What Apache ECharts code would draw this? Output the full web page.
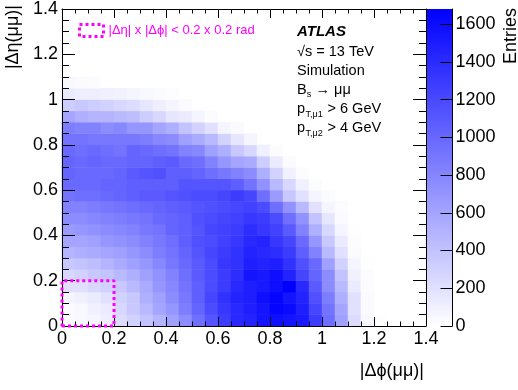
<!DOCTYPE html>
<html><head><meta charset="utf-8">
<script src="https://cdn.jsdelivr.net/npm/echarts@6/dist/echarts.min.js"></script>
<style>html,body{margin:0;padding:0;background:#fff}#c{width:518px;height:390px}</style>
</head><body><div id="c"></div>
<script>
// ---------------- data ----------------
// Bin edges: 28 x 28 bins of 0.05 on both axes (0 .. 1.4)
const nBinsPhi = 28;
const nBinsEta = 28;
const binWidth = 0.05;
const axisMin = 0;
const axisMax = 1.4;
const axisStep = 0.2;
const xTickLabels = ['0', '0.2', '0.4', '0.6', '0.8', '1', '1.2', '1.4'];
const yTickLabels = ['0', '0.2', '0.4', '0.6', '0.8', '1', '1.2', '1.4'];
const colorbarTicks = [0, 200, 400, 600, 800, 1000, 1200, 1400, 1600];
const colorbarMax = 1680;
// signal region box |Δη| x |Δφ| < 0.2 x 0.2
const cutBoxPhi = [0, 0.2, 0.2, 0, 0];
const cutBoxEta = [0, 0, 0.2, 0.2, 0];
const cutLabel = '|Δη| x |Δϕ| < 0.2 x 0.2 rad';

// Entries per bin, one row per |Δη| bin (row 0 = 0-0.05), columns = |Δφ| bins
const entries = [
  [20, 46, 66, 112, 231, 297, 396, 495, 627, 759, 957, 1122, 1287, 1419, 1452, 1551, 1584, 1551, 1518, 1287, 957, 627, 231, 46, 5, 0, 0, 0],
  [33, 46, 99, 132, 264, 363, 462, 594, 693, 858, 1023, 1188, 1320, 1419, 1485, 1551, 1650, 1617, 1485, 1221, 924, 594, 198, 33, 0, 0, 0, 0],
  [66, 99, 132, 198, 297, 363, 528, 627, 759, 891, 1056, 1221, 1353, 1452, 1485, 1584, 1650, 1551, 1452, 1155, 858, 528, 198, 33, 0, 0, 0, 0],
  [198, 198, 264, 297, 363, 462, 561, 693, 792, 924, 1056, 1188, 1287, 1419, 1485, 1518, 1584, 1683, 1419, 1089, 759, 462, 132, 20, 0, 0, 0, 0],
  [264, 297, 363, 396, 462, 528, 627, 726, 825, 957, 1089, 1188, 1287, 1386, 1551, 1518, 1584, 1452, 1221, 1023, 759, 396, 99, 20, 0, 0, 0, 0],
  [363, 396, 429, 495, 561, 627, 693, 792, 891, 990, 1089, 1188, 1320, 1353, 1485, 1452, 1485, 1353, 1155, 990, 627, 297, 66, 5, 0, 0, 0, 0],
  [495, 528, 561, 594, 627, 693, 759, 858, 924, 1023, 1122, 1221, 1287, 1353, 1452, 1419, 1386, 1287, 1056, 825, 462, 198, 33, 0, 0, 0, 0, 0],
  [594, 594, 627, 693, 726, 759, 825, 891, 957, 1056, 1155, 1188, 1254, 1320, 1419, 1452, 1320, 1221, 990, 693, 363, 132, 20, 0, 0, 0, 0, 0],
  [660, 693, 726, 759, 792, 825, 891, 924, 1023, 1056, 1122, 1221, 1254, 1287, 1386, 1320, 1254, 1089, 825, 528, 264, 66, 5, 0, 0, 0, 0, 0],
  [759, 759, 792, 825, 858, 891, 924, 990, 1023, 1056, 1155, 1188, 1221, 1254, 1320, 1287, 1188, 957, 726, 396, 165, 33, 0, 0, 0, 0, 0, 0],
  [825, 825, 858, 891, 924, 957, 990, 1023, 1056, 1089, 1122, 1155, 1188, 1221, 1254, 1188, 957, 726, 462, 198, 66, 20, 0, 0, 0, 0, 0, 0],
  [924, 957, 957, 990, 1023, 1056, 1089, 1089, 1122, 1155, 1188, 1188, 1221, 1287, 1221, 957, 660, 363, 198, 66, 20, 0, 0, 0, 0, 0, 0, 0],
  [990, 990, 990, 1023, 1023, 1056, 1056, 1056, 1056, 1122, 1122, 1122, 1122, 1056, 924, 726, 462, 264, 99, 20, 0, 0, 0, 0, 0, 0, 0, 0],
  [1023, 990, 990, 990, 1023, 1089, 1122, 1155, 1056, 1056, 1023, 957, 891, 825, 759, 528, 297, 99, 20, 0, 0, 0, 0, 0, 0, 0, 0, 0],
  [1023, 990, 1023, 990, 990, 1023, 1023, 1056, 1089, 990, 957, 825, 693, 594, 561, 330, 132, 33, 0, 0, 0, 0, 0, 0, 0, 0, 0, 0],
  [990, 957, 990, 957, 924, 1023, 990, 957, 924, 825, 792, 627, 528, 363, 264, 99, 20, 0, 0, 0, 0, 0, 0, 0, 0, 0, 0, 0],
  [924, 924, 891, 891, 891, 891, 858, 792, 759, 627, 561, 462, 297, 165, 66, 0, 0, 0, 0, 0, 0, 0, 0, 0, 0, 0, 0, 0],
  [858, 825, 825, 759, 792, 693, 693, 594, 528, 396, 297, 198, 66, 33, 0, 0, 0, 0, 0, 0, 0, 0, 0, 0, 0, 0, 0, 0],
  [594, 528, 495, 495, 462, 429, 330, 264, 165, 132, 66, 20, 0, 0, 0, 0, 0, 0, 0, 0, 0, 0, 0, 0, 0, 0, 0, 0],
  [330, 363, 330, 297, 264, 231, 165, 112, 66, 33, 0, 0, 0, 0, 0, 0, 0, 0, 0, 0, 0, 0, 0, 0, 0, 0, 0, 0],
  [132, 112, 112, 99, 86, 66, 46, 33, 13, 0, 0, 0, 0, 0, 0, 0, 0, 0, 0, 0, 0, 0, 0, 0, 0, 0, 0, 0],
  [46, 33, 20, 0, 0, 0, 0, 0, 0, 0, 0, 0, 0, 0, 0, 0, 0, 0, 0, 0, 0, 0, 0, 0, 0, 0, 0, 0],
  [0, 0, 0, 0, 0, 0, 0, 0, 0, 0, 0, 0, 0, 0, 0, 0, 0, 0, 0, 0, 0, 0, 0, 0, 0, 0, 0, 0],
  [0, 0, 0, 0, 0, 0, 0, 0, 0, 0, 0, 0, 0, 0, 0, 0, 0, 0, 0, 0, 0, 0, 0, 0, 0, 0, 0, 0],
  [0, 0, 0, 0, 0, 0, 0, 0, 0, 0, 0, 0, 0, 0, 0, 0, 0, 0, 0, 0, 0, 0, 0, 0, 0, 0, 0, 0],
  [0, 0, 0, 0, 0, 0, 0, 0, 0, 0, 0, 0, 0, 0, 0, 0, 0, 0, 0, 0, 0, 0, 0, 0, 0, 0, 0, 0],
  [0, 0, 0, 0, 0, 0, 0, 0, 0, 0, 0, 0, 0, 0, 0, 0, 0, 0, 0, 0, 0, 0, 0, 0, 0, 0, 0, 0],
  [0, 0, 0, 0, 0, 0, 0, 0, 0, 0, 0, 0, 0, 0, 0, 0, 0, 0, 0, 0, 0, 0, 0, 0, 0, 0, 0, 0]
];

// ---------------- chart ----------------
const FONT = '"Liberation Sans", Arial, Helvetica, sans-serif';
const BLACK = '#000000';
const MAGENTA = '#ff00ff';

const phiBins = [];
for (let i = 0; i < nBinsPhi; i++) phiBins.push((i * binWidth).toFixed(2));
const etaBins = [];
for (let j = 0; j < nBinsEta; j++) etaBins.push((j * binWidth).toFixed(2));

// empty bins are not drawn (as in ROOT's COLZ)
const heatData = [];
entries.forEach((row, j) => row.forEach((v, i) => { if (v > 0) heatData.push([i, j, v]); }));

function valueAxis(pos, showLabels, majorLen, minorLen, labels) {
  return {
    type: 'value', gridIndex: 0, position: pos,
    min: axisMin, max: axisMax, interval: axisStep,
    axisLine: { show: true, onZero: false, lineStyle: { color: BLACK, width: 1 } },
    axisTick: { show: true, inside: true, length: majorLen, lineStyle: { color: BLACK, width: 1 } },
    minorTick: { show: true, splitNumber: 4, length: minorLen, lineStyle: { color: BLACK, width: 1 } },
    splitLine: { show: false }, minorSplitLine: { show: false },
    axisLabel: {
      show: showLabels, margin: 4, color: BLACK, fontSize: 18, fontFamily: FONT,
      formatter: (v, idx) => (labels && labels[idx] !== undefined) ? labels[idx] : ''
    },
    z: 3
  };
}

function txt(x, y, text, size, extra) {
  return {
    type: 'text', x: x, y: y, z: 100, silent: true,
    style: Object.assign({ text: text, fontSize: size, fontFamily: FONT, fill: BLACK, align: 'left', verticalAlign: 'middle' }, extra || {})
  };
}

const chart = echarts.init(document.getElementById('c'), null, { renderer: 'canvas' });
chart.setOption({
  animation: false,
  backgroundColor: '#ffffff',
  grid: [
    { left: 62, top: 9, width: 364, height: 317, containLabel: false, outerBoundsMode: 'none' },
    { left: 427, top: 9, width: 25.5, height: 317, containLabel: false, outerBoundsMode: 'none' }
  ],
  xAxis: [
    { type: 'category', gridIndex: 0, position: 'bottom', data: phiBins, show: false, boundaryGap: true },
    valueAxis('bottom', true, 9, 4.5, xTickLabels),
    valueAxis('top', false, 9, 4.5, null),
    { type: 'category', gridIndex: 1, position: 'bottom', data: ['cb'], show: false, boundaryGap: true }
  ],
  yAxis: [
    { type: 'category', gridIndex: 0, position: 'left', data: etaBins, show: false, boundaryGap: true },
    valueAxis('left', true, 13, 7, yTickLabels),
    valueAxis('right', false, 13, 7, null),
    {
      type: 'value', gridIndex: 1, position: 'right', min: 0, max: colorbarMax,
      axisLine: { show: true, onZero: false, lineStyle: { color: BLACK, width: 1 } },
      axisTick: { show: true, inside: true, length: 12, customValues: colorbarTicks, lineStyle: { color: BLACK, width: 1 } },
      axisLabel: { show: true, margin: 3, color: BLACK, fontSize: 18, fontFamily: FONT, customValues: colorbarTicks,
        formatter: (v) => String(v) },
      splitLine: { show: false },
      z: 3
    }
  ],
  visualMap: {
    type: 'continuous', show: false, min: 0, max: colorbarMax,
    seriesIndex: 0, dimension: 2,
    inRange: { color: ['#ffffff', '#0000ff'] }
  },
  legend: {
    data: [{ name: cutLabel, icon: 'rect' }],
    left: 78, top: 23, padding: 0,
    itemWidth: 24, itemHeight: 12,
    selectedMode: false,
    textStyle: { color: MAGENTA, fontSize: 13, fontFamily: FONT },
    itemStyle: { color: 'rgba(0,0,0,0)', borderColor: MAGENTA, borderWidth: 3, borderType: [3, 3] }
  },
  series: [
    {
      type: 'heatmap', xAxisIndex: 0, yAxisIndex: 0, data: heatData,
      progressive: 0, itemStyle: { borderWidth: 0 }, emphasis: { disabled: true }, silent: true
    },
    {
      type: 'line', name: cutLabel, xAxisIndex: 1, yAxisIndex: 1,
      data: cutBoxPhi.map((x, k) => [x, cutBoxEta[k]]),
      symbol: 'none', clip: false, silent: true,
      lineStyle: { color: MAGENTA, width: 3, type: [3, 3], cap: 'butt' },
      itemStyle: { color: MAGENTA },
      z: 5
    },
    {
      type: 'bar', xAxisIndex: 3, yAxisIndex: 3, data: [colorbarMax],
      barWidth: '100%', silent: true,
      itemStyle: {
        color: { type: 'linear', x: 0, y: 0, x2: 0, y2: 1,
          colorStops: [{ offset: 0, color: '#0000ff' }, { offset: 1, color: '#ffffff' }] }
      }
    }
  ],
  graphic: [
    { type: 'text', x: 13, y: 5, z: 100, rotation: Math.PI / 2, silent: true,
      style: { text: '|Δη(μμ)|', fontSize: 18, fontFamily: FONT, fill: BLACK, align: 'right', verticalAlign: 'middle' } },
    { type: 'text', x: 424, y: 371, z: 100, silent: true,
      style: { text: '|Δϕ(μμ)|', fontSize: 18, fontFamily: FONT, fill: BLACK, align: 'right', verticalAlign: 'middle' } },
    { type: 'text', x: 511, y: 8, z: 100, rotation: Math.PI / 2, silent: true,
      style: { text: 'Entries', fontSize: 18, fontFamily: FONT, fill: BLACK, align: 'right', verticalAlign: 'middle' } },
    txt(297, 32, 'ATLAS', 15, { fontWeight: 'bold', fontStyle: 'italic' }),
    txt(297, 51.5, '√s = 13 TeV', 14.5),
    txt(297, 70.5, 'Simulation', 14.5),
    txt(297, 90, 'B', 14.5),
    txt(306.7, 95, 's', 9),
    txt(311.5, 90, ' → μμ', 14.5),
    txt(297, 109, 'p', 14.5),
    txt(305.5, 115, 'T,μ1', 9),
    txt(323.5, 109, ' > 6 GeV', 14.5),
    txt(297, 128, 'p', 14.5),
    txt(305.5, 134, 'T,μ2', 9),
    txt(323.5, 128, ' > 4 GeV', 14.5)
  ]
});
</script>
</body></html>
